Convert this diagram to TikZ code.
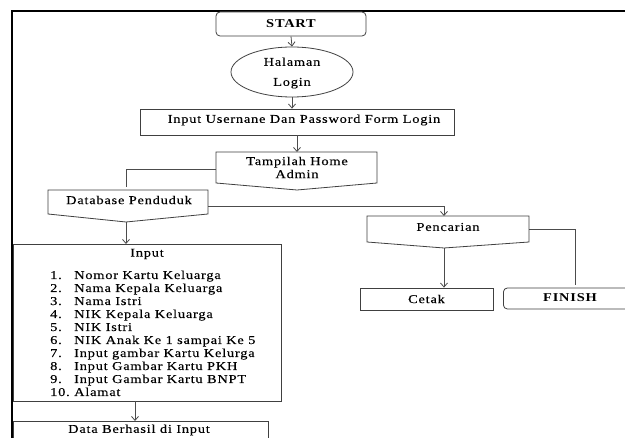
\documentclass[tikz,border=0pt]{standalone}
\usepackage{fontspec}
\setmainfont{Liberation Serif}[FakeStretch=1.2, LetterSpace=6.5, UprightFeatures={FakeBold=0.15}]
\usetikzlibrary{arrows.meta,calc,shapes.geometric}
\begin{document}
\begin{tikzpicture}[x=1pt,y=-1pt,
  every node/.style={font=\fontsize{12}{13}\selectfont, text=black},
  box/.style={draw=black!75, line width=0.8pt, inner sep=0pt, fill=white},
  rbox/.style={box, rounded corners=4pt},
  conn/.style={draw=black!70, line width=0.8pt},
  arr/.style={conn, -{Straight Barb[length=4pt,width=7pt]}},
  ptshape/.style={draw=black!75, line width=0.8pt, fill=white},
  lbl/.style={inner sep=0pt}
]
\useasboundingbox (0,0) rectangle (625,438);
\fill[white] (0,0) rectangle (625,438);
\clip (0,0) rectangle (625,438);

% frame
\draw[line width=2pt] (12,445) -- (12,11) -- (635,11);

% START
\node[rbox, minimum width=150pt, minimum height=24pt] (start) at (291,24) {\bfseries START};

% Halaman Login
\node[box, ellipse, minimum width=122pt, minimum height=50pt] (login) at (292,72) {};
\node[lbl, align=center, font=\fontsize{12}{20}\selectfont] (loginT) at (292,73) {Halaman\\Login};

% Input username
\node[box, minimum width=314pt, minimum height=26pt] (user) at (297,122) {};
\node[lbl] (userT) at (304,120) {Input Usernane Dan Password Form Login};

% Tampilah Home Admin
\draw[ptshape] (216,152) -- (377,152) -- (377,183) -- (297,190) -- (216,183) -- cycle;
\coordinate (tampTop) at (297,152);
\coordinate (tampL) at (216,169);
\node[lbl, align=center] (tamp) at (297,167.5) {Tampilah Home\\Admin};

% Database Penduduk
\draw[ptshape] (48,190) -- (208,190) -- (208,214) -- (126,222) -- (48,214) -- cycle;
\coordinate (dbTop) at (126,187);
\coordinate (dbR) at (208,206);
\coordinate (dbTip) at (126,222);
\node[lbl] (db) at (129,200) {Database Penduduk};

% Pencarian
\draw[ptshape] (367,216) -- (529,216) -- (529,242) -- (444,248) -- (367,242) -- cycle;
\coordinate (pcTop) at (444,216);
\coordinate (pcR) at (529,229);
\coordinate (pcTip) at (444,248);
\coordinate (finC) at (575,285);
\node[lbl] (pc) at (448,227) {Pencarian};

% Input box
\node[box, minimum width=268pt, minimum height=157pt, anchor=north west] (input) at (13,244) {};
\node[lbl] (inputT) at (147,254) {Input};
\node[lbl, anchor=base west] (list) at (50,279) {\renewcommand\arraystretch{1}%
\begin{tabular}[t]{@{}p{24pt}@{}l@{}}
1. & Nomor Kartu Keluarga\\
2. & Nama Kepala Keluarga\\
3. & Nama Istri\\
4. & NIK Kepala Keluarga\\
5. & NIK Istri\\
6. & NIK Anak Ke 1 sampai Ke 5\\
7. & Input gambar Kartu Kelurga\\
8. & Input Gambar Kartu PKH\\
9. & Input Gambar Kartu BNPT\\
10. & Alamat
\end{tabular}};
\coordinate (inB) at (135,401);

% Data Berhasil
\node[box, minimum width=255pt, minimum height=30pt, anchor=north west] (data) at (13,421) {};
\node[lbl] (dataT) at (139,430) {Data Berhasil di Input};

% Cetak, FINISH
\node[box, minimum width=133pt, minimum height=22pt] (cetak) at (426.5,299) {Cetak};
\node[rbox, minimum width=140pt, minimum height=21pt, anchor=west] (finish) at (503,298.5) {};
\node[lbl] (finishT) at (570,298) {\bfseries FINISH};

% connectors
\draw[arr] (start.south) -- (login.north);
\draw[arr] (login.south) -- (login.south |- user.north);
\draw[arr] (tampTop |- user.south) -- (tampTop);
\draw[conn] (tampL) -| (dbTop);
\draw[arr] (dbR) -| (pcTop);
\draw[arr] (dbTip) -- (dbTip |- input.north);
\draw[arr] (pcTip) -- (pcTip |- cetak.north);
\draw[conn] (pcR) -| (finC);
\draw[arr] (inB) -- (inB |- data.north);
\end{tikzpicture}
\end{document}
